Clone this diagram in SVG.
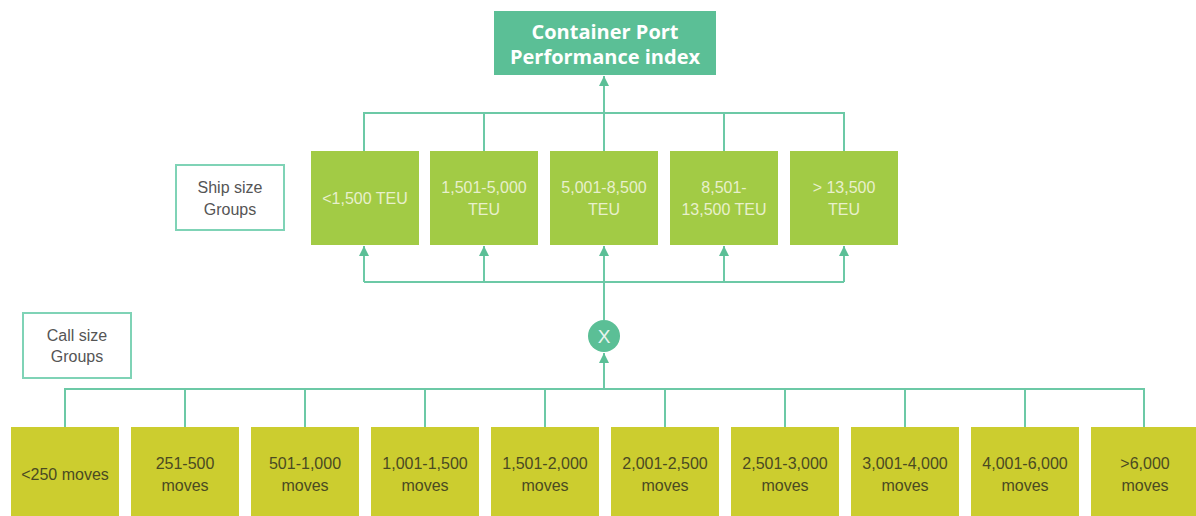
<svg xmlns="http://www.w3.org/2000/svg" width="1196" height="516" viewBox="0 0 1196 516">
<style>
.ln{fill:none;stroke:#6cc9a6;stroke-width:2}
.ship rect{fill:#a2cb45}
.ship text{fill:#e8f0cc;font-family:"Liberation Sans",Arial,sans-serif;font-size:16px;text-anchor:middle}
.call rect{fill:#cccd2f}
.call text{fill:#4a4a22;font-family:"Liberation Sans",Arial,sans-serif;font-size:16px;text-anchor:middle}
.lbl rect{fill:#fff;stroke:#7fd3b6;stroke-width:2}
.lbl text{fill:#555;font-family:"Liberation Sans",Arial,sans-serif;font-size:16px;text-anchor:middle}
</style>
<defs>
<marker id="ah" viewBox="0 0 10 10" refX="10" refY="5" markerWidth="5" markerHeight="5" orient="auto" markerUnits="userSpaceOnUse" >
<path d="M0,0 L10,5 L0,10 z" fill="#5bbf96"/>
</marker>
<marker id="a" viewBox="0 0 10 10" refX="10" refY="5" markerWidth="10" markerHeight="10" orient="auto" markerUnits="userSpaceOnUse">
<path d="M0,0 L10,5 L0,10 z" fill="#5bbf96"/>
</marker>
</defs>
<g id="connectors">
<path class="ln" d="M364,151V113H844V151M484,151V113M724,151V113"/>
<path class="ln" d="M604,151V76" marker-end="url(#a)"/>
<path class="ln" d="M364,282H844"/>
<path class="ln" d="M364,282V246" marker-end="url(#a)"/>
<path class="ln" d="M484,282V246" marker-end="url(#a)"/>
<path class="ln" d="M604,320V246" marker-end="url(#a)"/>
<path class="ln" d="M724,282V246" marker-end="url(#a)"/>
<path class="ln" d="M844,282V246" marker-end="url(#a)"/>
<path class="ln" d="M604,389V353" marker-end="url(#a)"/>
<path class="ln" d="M65,427V389H1144V427M185,427V389M305,427V389M425,427V389M545,427V389M665,427V389M785,427V389M905,427V389M1025,427V389"/>
</g>
<g id="title">
<rect x="494" y="11" width="222" height="64" fill="#5bbf96"/>
<text x="605" y="39" fill="#fff" font-family="'Open Sans','Liberation Sans',sans-serif" font-weight="bold" font-size="20" text-anchor="middle">Container Port</text>
<text x="605" y="64" fill="#fff" font-family="'Open Sans','Liberation Sans',sans-serif" font-weight="bold" font-size="20" text-anchor="middle">Performance index</text>
</g>
<g id="ship-label" class="lbl">
<rect x="176" y="165" width="108" height="65"/>
<text x="230" y="193">Ship size</text>
<text x="230" y="215">Groups</text>
</g>
<g id="call-label" class="lbl">
<rect x="23" y="313" width="108" height="65"/>
<text x="77" y="341">Call size</text>
<text x="77" y="362">Groups</text>
</g>
<g id="multiply">
<circle cx="604" cy="336" r="16" fill="#5bbf96"/>
<text x="604" y="343" fill="#e8f5ef" font-family="'Liberation Sans',Arial,sans-serif" font-size="19" text-anchor="middle">X</text>
</g>
<g id="ship1" class="ship"><rect x="311" y="151" width="108" height="94"/><text x="365" y="204">&lt;1,500 TEU</text></g>
<g id="ship2" class="ship"><rect x="430" y="151" width="108" height="94"/><text x="484" y="193">1,501-5,000</text><text x="484" y="215">TEU</text></g>
<g id="ship3" class="ship"><rect x="550" y="151" width="108" height="94"/><text x="604" y="193">5,001-8,500</text><text x="604" y="215">TEU</text></g>
<g id="ship4" class="ship"><rect x="670" y="151" width="108" height="94"/><text x="724" y="193">8,501-</text><text x="724" y="215">13,500 TEU</text></g>
<g id="ship5" class="ship"><rect x="790" y="151" width="108" height="94"/><text x="844" y="193">&gt; 13,500</text><text x="844" y="215">TEU</text></g>
<g id="call1" class="call"><rect x="11" y="427" width="108" height="90"/><text x="65" y="480">&lt;250 moves</text></g>
<g id="call2" class="call"><rect x="131" y="427" width="108" height="90"/><text x="185" y="469">251-500</text><text x="185" y="491">moves</text></g>
<g id="call3" class="call"><rect x="251" y="427" width="108" height="90"/><text x="305" y="469">501-1,000</text><text x="305" y="491">moves</text></g>
<g id="call4" class="call"><rect x="371" y="427" width="108" height="90"/><text x="425" y="469">1,001-1,500</text><text x="425" y="491">moves</text></g>
<g id="call5" class="call"><rect x="491" y="427" width="108" height="90"/><text x="545" y="469">1,501-2,000</text><text x="545" y="491">moves</text></g>
<g id="call6" class="call"><rect x="611" y="427" width="108" height="90"/><text x="665" y="469">2,001-2,500</text><text x="665" y="491">moves</text></g>
<g id="call7" class="call"><rect x="731" y="427" width="108" height="90"/><text x="785" y="469">2,501-3,000</text><text x="785" y="491">moves</text></g>
<g id="call8" class="call"><rect x="851" y="427" width="108" height="90"/><text x="905" y="469">3,001-4,000</text><text x="905" y="491">moves</text></g>
<g id="call9" class="call"><rect x="971" y="427" width="108" height="90"/><text x="1025" y="469">4,001-6,000</text><text x="1025" y="491">moves</text></g>
<g id="call10" class="call"><rect x="1091" y="427" width="108" height="90"/><text x="1145" y="469">&gt;6,000</text><text x="1145" y="491">moves</text></g>
</svg>
